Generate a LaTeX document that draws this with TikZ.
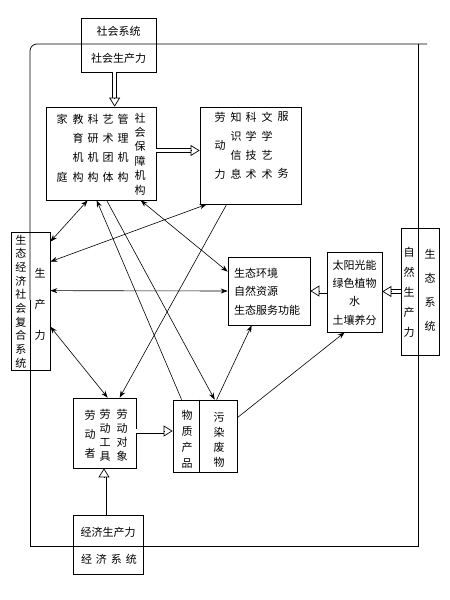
\documentclass[tikz,border=0pt]{standalone}
\usepackage{fontspec}
\newfontfamily\cjk{Noto Sans CJK SC}
\usetikzlibrary{arrows.meta,calc}

\newcommand{\frameL}{30}
\newcommand{\frameR}{418}
\newcommand{\frameT}{44}
\newcommand{\frameB}{546}

\tikzset{
  box/.style={draw, line width=0.7pt, inner sep=0pt},
  vcol/.style={align=center, inner sep=0pt, font=\cjk\fontsize{11}{#1}\selectfont},
  txt/.style={inner sep=0pt, font=\cjk\fontsize{11}{13}\selectfont},
  frame/.style={line width=0.7pt},
  hshaft/.style={double, double distance=3.6pt, line width=0.7pt},
  htip/.style={line width=0.7pt, -{Triangle[open, length=9pt, width=11pt]}},
  thin/.style={line width=0.6pt},
  bi/.style={thin, {Stealth[length=7pt, width=5pt]}-{Stealth[length=7pt, width=5pt]}},
  one/.style={thin, -{Stealth[length=7pt, width=5pt]}}
}

\newcommand{\hollowarrow}[2]{%
  \draw[hshaft] (#1) -- ($(#2)!9pt!(#1)$);
  \draw[htip] ($(#2)!9pt!(#1)$) -- (#2);}

\begin{document}
\begin{tikzpicture}[x=1pt, y=-1pt]
  \useasboundingbox (0,0) rectangle (450,600);

  % Frame:
  \draw[frame, rounded corners=7pt] (427,\frameT) -- (\frameL,\frameT) -- (\frameL,300);
  \draw[frame] (\frameL,300) -- (\frameL,\frameB) -- (\frameR,\frameB) -- (\frameR,\frameT);

  % Boxes:
  \node[box, minimum width=75pt,  minimum height=54pt]  (soc)   at (118.5,45)    {};
  \node[box, minimum width=110pt, minimum height=93pt]  (inst)  at (101,153.5)   {};
  \node[box, minimum width=101pt, minimum height=97pt]  (labor) at (250.5,155.5) {};
  \node[box, minimum width=39pt,  minimum height=138pt] (ecol)  at (30.5,301)    {};
  \node[box, minimum width=82pt,  minimum height=68pt]  (eco)   at (269,291)     {};
  \node[box, minimum width=55pt,  minimum height=80pt]  (sun)   at (354.5,292)   {};
  \node[box, minimum width=38pt,  minimum height=127pt] (nat)   at (420,291.5)   {};
  \node[box, minimum width=63pt,  minimum height=70pt]  (work)  at (104.5,433)   {};
  \node[box, minimum width=64pt,  minimum height=72pt]  (prod)  at (205,436)     {};
  \node[box, minimum width=70pt,  minimum height=59pt]  (econ)  at (108,544.5)   {};
  \draw[thin] ([shift={(27,0)}]prod.north west) -- ([shift={(27,0)}]prod.south west);

  % Texts:
  \node[txt] (socsys)  at (118.5,31) {社会系统};
  \node[txt] (socprod) at (118.5,58) {社会生产力};

  \node[vcol=19.3] (family)  at (62,148)  {家\\\phantom{家}\\\phantom{家}\\庭};
  \node[vcol=19.3] (educ)    at (78,148)  {教\\育\\机\\构};
  \node[vcol=19.3] (research) at (93,148) {科\\研\\机\\构};
  \node[vcol=19.3] (arts)    at (108,148) {艺\\术\\团\\体};
  \node[vcol=19.3] (manage)  at (123,148) {管\\理\\机\\构};
  \node[vcol=14.4] (welfare) at (140,154) {社\\会\\保\\障\\机\\构};

  \node[vcol=28.5] (workforce) at (220,145.5) {劳\\动\\力};
  \node[vcol=19]   (knowinfo)  at (236,145.5) {知\\识\\信\\息};
  \node[vcol=19]   (scitech)   at (251,145.5) {科\\学\\技\\术};
  \node[vcol=19]   (litart)    at (267,145.5) {文\\学\\艺\\术};
  \node[vcol=19]   (service)   at (283,145.5) {服\\\phantom{服}\\\phantom{服}\\务};

  \node[vcol=13.7] (compsys)  at (21,301.5) {生\\态\\经\\济\\社\\会\\复\\合\\系\\统};
  \node[vcol=31]   (prodforce) at (40,304)  {生\\产\\力};

  \node[vcol=18.5, align=left, anchor=west] (ecoenv) at (234,291.5) {生态环境\\自然资源\\生态服务功能};
  \node[vcol=18.3] (sunplant) at (354.5,292.5) {太阳光能\\绿色植物\\水\\土壤养分};

  \node[vcol=20] (natprod) at (409,292.5) {自\\然\\生\\产\\力};
  \node[vcol=24] (ecosys)  at (430,290)   {生\\态\\系\\统};

  \node[vcol=19] (worker) at (90,434)  {劳\\动\\者};
  \node[vcol=14] (tools)  at (105,435) {劳\\动\\工\\具};
  \node[vcol=14] (objects) at (122,435) {劳\\动\\对\\象};

  \node[vcol=16] (goods) at (187,439) {物\\质\\产\\品};
  \node[vcol=15] (waste) at (219,440) {污\\染\\废\\物};

  \node[txt] (econprod) at (108,532) {经济生产力};
  \node[txt] (econsys)  at (109,559) {经\hspace{4pt}济\hspace{4pt}系\hspace{4pt}统};

  % Hollow arrows:
  \hollowarrow{[shift={(34,0)}]soc.south west}{[shift={(69,0)}]inst.north west}
  \hollowarrow{[shift={(0,-3)}]inst.east}{[shift={(0,-5)}]labor.west}
  \hollowarrow{[shift={(0,-1)}]sun.west}{eco.east}
  \hollowarrow{nat.west}{[shift={(0,-0.5)}]sun.east}
  \hollowarrow{[shift={(0,-2)}]work.east}{[shift={(0,-5)}]prod.west}
  \hollowarrow{[shift={(-4,0)}]econ.north}{[shift={(-0.5,0)}]work.south}

  % Thin arrows:
  \draw[bi] ([shift={(42,0)}]inst.south west) -- ([shift={(0,10)}]ecol.north east);
  \draw[bi] ([shift={(7,0)}]labor.south west) -- ([shift={(0,30)}]ecol.north east);
  \draw[bi] ([shift={(0,59)}]ecol.north east) -- ([shift={(0,0)}]eco.west);
  \draw[bi] ([shift={(95,0)}]inst.south west) -- ([shift={(0,15)}]eco.north west);
  \draw[bi] ([shift={(0,95)}]ecol.north east) -- ([shift={(35,0)}]work.north west);
  \draw[one] ([shift={(9,0)}]prod.north west) -- ([shift={(51,0)}]inst.south west);
  \draw[one] ([shift={(61,0)}]inst.south west) -- ([shift={(42,0)}]prod.north west);
  \draw[one] ([shift={(27,0)}]labor.south west) -- ([shift={(47,0)}]work.north west);
  \draw[one] ([shift={(44,0)}]prod.north west) -- ([shift={(24,0)}]eco.south west);
  \draw[one] ([shift={(0,18)}]prod.north east) -- ([shift={(18,0)}]sun.south west);

\end{tikzpicture}
\end{document}
